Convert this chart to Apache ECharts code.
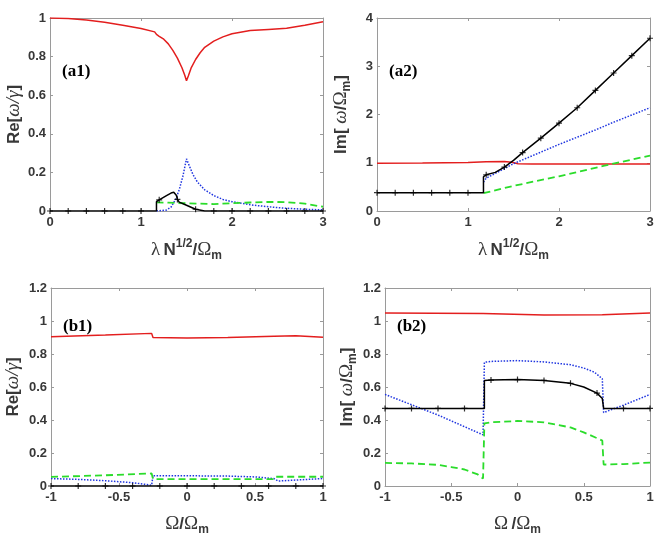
<!DOCTYPE html>
<html>
<head>
  <title>Re / Im of eigenvalues</title>
  <meta charset="utf-8" />
  <script src="https://cdn.jsdelivr.net/npm/echarts@6.0.0/dist/echarts.min.js"></script>
  <style>
    html, body, #main {
      width: 665px;
      height: 542px;
      padding: 0;
      margin: 0;
      background: #fff;
    }
  </style>
</head>
<body>
<div id="main"></div>
<script>
  // (a1) Re[w/gamma] vs lambda N^1/2 / Omega_m
  var a1Red = [[0,1.0],[0.2,0.997],[0.4,0.99],[0.6,0.978],[0.8,0.963],[1.0,0.946],[1.15,0.928],[1.17,0.915],[1.2,0.905],[1.25,0.89],[1.3,0.866],[1.35,0.832],[1.4,0.792],[1.45,0.742],[1.48,0.705],[1.5,0.675],[1.52,0.7],[1.55,0.74],[1.6,0.785],[1.65,0.82],[1.7,0.848],[1.8,0.88],[1.9,0.902],[2.0,0.918],[2.2,0.935],[2.4,0.941],[2.6,0.947],[2.8,0.962],[3.0,0.98]];
  var a1Blue = [[1.17,0],[1.28,0.005],[1.33,0.02],[1.38,0.06],[1.42,0.11],[1.46,0.18],[1.5,0.27],[1.53,0.235],[1.57,0.19],[1.62,0.15],[1.7,0.11],[1.8,0.08],[1.9,0.06],[2.0,0.048],[2.2,0.032],[2.4,0.022],[2.6,0.014],[2.8,0.009],[3.0,0.006]];
  var a1Green = [[1.17,0.045],[1.3,0.043],[1.5,0.04],[1.8,0.036],[2.0,0.04],[2.2,0.044],[2.4,0.047],[2.6,0.046],[2.8,0.038],[3.0,0.022]];
  var a1Black = [[0,0],[0.2,0],[0.4,0],[0.6,0],[0.8,0],[1.0,0],[1.17,0],[1.17,0.048],[1.2,0.058],[1.28,0.08],[1.33,0.093],[1.36,0.097],[1.39,0.08],[1.4,0.06],[1.42,0.046],[1.5,0.03],[1.6,0.009],[1.7,0],[1.8,0],[2.0,0],[2.2,0],[2.4,0],[2.6,0],[2.8,0],[3.0,0]];

  // (a2) Im[w/Omega_m] vs lambda N^1/2 / Omega_m
  var a2Red = [[0,0.99],[0.5,0.995],[1.0,1.005],[1.2,1.02],[1.4,1.025],[1.48,1.01],[1.55,0.98],[1.7,0.975],[2.2,0.975],[3.0,0.975]];
  var a2Blue = [[1.17,0.6],[1.2,0.68],[1.3,0.78],[1.4,0.88],[1.5,0.98],[1.6,1.06],[1.8,1.22],[2.0,1.38],[2.2,1.53],[2.4,1.68],[2.6,1.84],[2.8,1.99],[3.0,2.14]];
  var a2Green = [[1.17,0.37],[1.5,0.52],[2.0,0.72],[2.5,0.94],[3.0,1.15]];
  var a2Black = [[0,0.38],[0.2,0.38],[0.4,0.38],[0.6,0.38],[0.8,0.38],[1.0,0.38],[1.17,0.38],[1.17,0.71],[1.2,0.75],[1.3,0.8],[1.4,0.91],[1.5,1.05],[1.6,1.21],[1.8,1.51],[2.0,1.82],[2.2,2.14],[2.4,2.5],[2.6,2.86],[2.8,3.22],[3.0,3.58]];

  // (b1) Re[w/gamma] vs Omega / Omega_m
  var b1Red = [[-1,0.905],[-0.6,0.915],[-0.26,0.925],[-0.25,0.9],[0,0.897],[0.3,0.9],[0.64,0.907],[0.65,0.915],[0.8,0.91],[1,0.902]];
  var b1Blue = [[-1,0.045],[-0.8,0.04],[-0.6,0.032],[-0.4,0.02],[-0.26,0.005],[-0.25,0.062],[0,0.062],[0.3,0.06],[0.5,0.055],[0.64,0.045],[0.67,0.03],[0.8,0.036],[1,0.045]];
  var b1Green = [[-1,0.055],[-0.6,0.065],[-0.26,0.076],[-0.25,0.042],[0.3,0.042],[0.64,0.042],[0.65,0.056],[1,0.056]];
  var b1Black = [[-1,0],[-0.8,0],[-0.6,0],[-0.4,0],[-0.2,0],[0,0],[0.2,0],[0.4,0],[0.6,0],[0.8,0],[1,0]];

  // (b2) Im[w/Omega_m] vs Omega / Omega_m
  var b2Red = [[-1,1.048],[-0.26,1.045],[-0.25,1.037],[0.2,1.036],[0.64,1.038],[0.65,1.047],[1,1.048]];
  var b2Blue = [[-1,0.555],[-0.6,0.43],[-0.26,0.31],[-0.25,0.75],[-0.2,0.755],[0,0.76],[0.2,0.752],[0.4,0.735],[0.5,0.715],[0.58,0.69],[0.64,0.65],[0.65,0.445],[0.8,0.49],[1,0.555]];
  var b2Green = [[-1,0.14],[-0.8,0.137],[-0.6,0.128],[-0.5,0.115],[-0.4,0.1],[-0.3,0.07],[-0.26,0.045],[-0.25,0.38],[-0.2,0.386],[0,0.394],[0.2,0.386],[0.4,0.355],[0.5,0.325],[0.6,0.29],[0.64,0.275],[0.65,0.13],[0.8,0.133],[1,0.142]];
  var b2Black = [[-1,0.47],[-0.8,0.47],[-0.6,0.47],[-0.4,0.47],[-0.25,0.47],[-0.25,0.64],[-0.2,0.642],[0,0.645],[0.2,0.64],[0.4,0.622],[0.5,0.6],[0.6,0.563],[0.64,0.53],[0.65,0.47],[0.8,0.47],[1,0.47]];

  var xTicksA = [0, 3, 1];       // min, max, interval
  var xTicksB = [-1, 1, 0.5];
  var yTicksA1 = [0, 1, 0.2];
  var yTicksA2 = [0, 4, 1];
  var yTicksB = [0, 1.2, 0.2];

  var panelNames = ['(a1)', '(a2)', '(b1)', '(b2)'];

  var SANS = 'Liberation Sans';
  var SERIF = 'Liberation Serif';
  var axisGray = '#9a9a9a';
  var labelGray = '#383838';

  var rich = {
    b: { fontFamily: SANS, fontWeight: 'bold', fontSize: 17, color: labelGray, lineHeight: 24 },
    i: { fontFamily: SERIF, fontStyle: 'italic', fontSize: 19, color: labelGray, lineHeight: 24 },
    o: { fontFamily: SERIF, fontSize: 19, color: labelGray, lineHeight: 24 },
    l: { fontFamily: SERIF, fontSize: 19, color: labelGray, lineHeight: 24 },
    sp: { fontSize: 8, lineHeight: 24 },
    sup: { fontFamily: SANS, fontWeight: 'bold', fontSize: 12, color: labelGray, lineHeight: 12, verticalAlign: 'top' },
    sub: { fontFamily: SANS, fontWeight: 'bold', fontSize: 12, color: labelGray, lineHeight: 10, verticalAlign: 'bottom' }
  };

  var grids = [
    { left: 50, top: 18, width: 273, height: 193 },
    { left: 377, top: 18, width: 273, height: 193 },
    { left: 51, top: 288, width: 272, height: 198 },
    { left: 385, top: 288, width: 265, height: 198 }
  ];

  var xNames = [
    '{l|λ} {b|N}{sup|1/2}{b|/}{o|Ω}{sub|m}',
    '{l|λ} {b|N}{sup|1/2}{b|/}{o|Ω}{sub|m}',
    '{o|Ω}{b|/}{o|Ω}{sub|m}',
    '{o|Ω} {b|/}{o|Ω}{sub|m}'
  ];
  var yNames = [
    '{b|Re[}{i|ω/γ}{b|]}',
    '{b|Im[ }{i|ω}{b|/}{o|Ω}{sub|m}{b|]}',
    '{b|Re[}{i|ω/γ}{b|]}',
    '{b|Im[ }{i|ω}{b|/}{o|Ω}{sub|m}{b|]}'
  ];
  var xTicks = [xTicksA, xTicksA, xTicksB, xTicksB];
  var yTicks = [yTicksA1, yTicksA2, yTicksB, yTicksB];
  var xNameGap = [27, 27, 26, 26];
  var yNameGap = [24, 24, 26, 26];

  var panels = [
    [a1Red, a1Blue, a1Green, a1Black],
    [a2Red, a2Blue, a2Green, a2Black],
    [b1Red, b1Blue, b1Green, b1Black],
    [b2Red, b2Blue, b2Green, b2Black]
  ];

  // markers on the black curve every 0.2
  function markerPoints(data) {
    return data.filter(function (p) {
      return Math.abs(p[0] * 5 - Math.round(p[0] * 5)) < 1e-6;
    });
  }

  var xAxes = [], yAxes = [], series = [], graphics = [];
  for (var i = 0; i < 4; i++) {
    var tickCommon = { show: true, inside: true, length: 3, lineStyle: { color: axisGray } };
    xAxes.push({
      type: 'value', gridIndex: i, position: 'bottom',
      min: xTicks[i][0], max: xTicks[i][1], interval: xTicks[i][2],
      axisLine: { onZero: false, lineStyle: { color: axisGray } },
      axisTick: tickCommon, splitLine: { show: false },
      axisLabel: { color: labelGray, fontFamily: SANS, fontWeight: 'bold', fontSize: 13, margin: 5 },
      name: xNames[i], nameLocation: 'middle', nameGap: xNameGap[i],
      nameTextStyle: { rich: rich }
    });
    xAxes.push({
      type: 'value', gridIndex: i, position: 'top',
      min: xTicks[i][0], max: xTicks[i][1], interval: xTicks[i][2],
      axisLine: { onZero: false, lineStyle: { color: axisGray } },
      axisTick: tickCommon, splitLine: { show: false }, axisLabel: { show: false }
    });
    yAxes.push({
      type: 'value', gridIndex: i, position: 'left',
      min: yTicks[i][0], max: yTicks[i][1], interval: yTicks[i][2],
      axisLine: { show: true, onZero: false, lineStyle: { color: axisGray } },
      axisTick: tickCommon, splitLine: { show: false },
      axisLabel: { color: labelGray, fontFamily: SANS, fontWeight: 'bold', fontSize: 13, margin: 4 },
      name: yNames[i], nameLocation: 'middle', nameGap: yNameGap[i],
      nameTextStyle: { rich: rich }
    });
    yAxes.push({
      type: 'value', gridIndex: i, position: 'right',
      min: yTicks[i][0], max: yTicks[i][1], interval: yTicks[i][2],
      axisLine: { show: true, onZero: false, lineStyle: { color: axisGray } },
      axisTick: tickCommon, splitLine: { show: false }, axisLabel: { show: false }
    });

    var d = panels[i];
    var xi = i * 2, yi = i * 2;
    series.push({ type: 'line', xAxisIndex: xi, yAxisIndex: yi, data: d[0], showSymbol: false,
      lineStyle: { color: '#e31e1e', width: 1.5 } });
    series.push({ type: 'line', xAxisIndex: xi, yAxisIndex: yi, data: d[1], showSymbol: false,
      lineStyle: { color: '#1f35e0', width: 1.5, type: [1.5, 1.5] } });
    series.push({ type: 'line', xAxisIndex: xi, yAxisIndex: yi, data: d[2], showSymbol: false,
      lineStyle: { color: '#2bdc2b', width: 1.8, type: [7, 4] } });
    series.push({ type: 'line', xAxisIndex: xi, yAxisIndex: yi, data: d[3], showSymbol: false,
      lineStyle: { color: '#000', width: 1.5 } });
    series.push({ type: 'scatter', xAxisIndex: xi, yAxisIndex: yi, data: markerPoints(d[3]),
      symbol: 'path://M4,0h2v4h4v2h-4v4h-2v-4h-4v-2h4z', symbolSize: 6,
      itemStyle: { color: '#000' }, z: 3 });

    graphics.push({
      type: 'text', left: grids[i].left + 12, top: (i < 2 ? 63 : 318),
      style: { text: panelNames[i], font: 'bold 17px "Liberation Serif"', fill: '#000' }
    });
  }

  var myChart = echarts.init(document.getElementById('main'));
  var option = {
    animation: false,
    backgroundColor: '#fff',
    grid: grids,
    xAxis: xAxes,
    yAxis: yAxes,
    series: series,
    graphic: graphics
  };
  myChart.setOption(option);
</script>
</body>
</html>
